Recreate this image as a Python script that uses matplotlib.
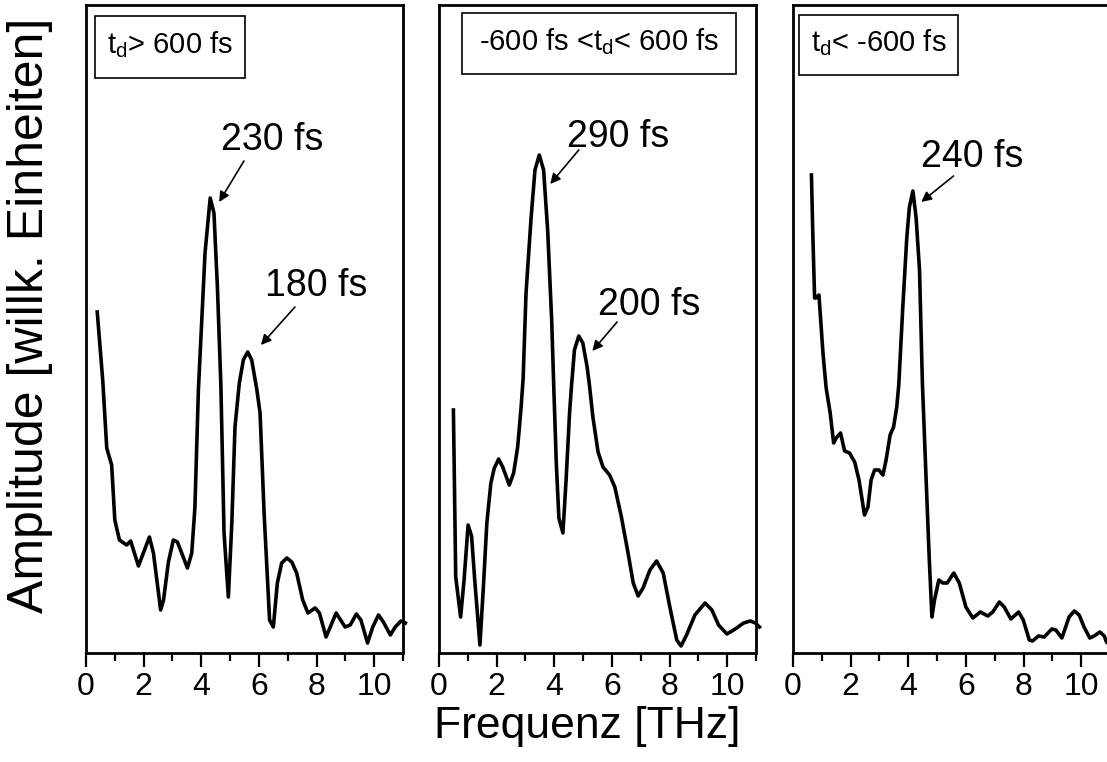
import matplotlib
matplotlib.use("Agg")
import matplotlib.pyplot as plt
from matplotlib.patches import Rectangle

plt.rcParams['font.family'] = ['Liberation Sans', 'DejaVu Sans']
plt.rcParams['mathtext.fontset'] = 'custom'
plt.rcParams['mathtext.rm'] = 'Liberation Sans'
plt.rcParams['mathtext.it'] = 'Liberation Sans'

# panel 1: t_d > 600 fs
x1 = [0.39, 0.58, 0.72, 0.89, 1.0, 1.16, 1.41, 1.55, 1.82, 2.2, 2.34, 2.59, 2.69, 2.86, 3.03,
      3.17, 3.32, 3.52, 3.67, 3.78, 3.9, 4.13, 4.31, 4.44, 4.56, 4.68, 4.79, 4.94, 5.06, 5.17,
      5.32, 5.46, 5.61, 5.75, 5.93, 6.04, 6.18, 6.37, 6.5, 6.64, 6.79, 6.97, 7.14, 7.31, 7.52,
      7.7, 7.95, 8.1, 8.33, 8.68, 8.99, 9.17, 9.38, 9.54, 9.77, 9.95, 10.15, 10.32, 10.56,
      10.73, 10.93, 11.08]
y1 = [341, 273, 205, 188, 133, 113, 108, 112, 87, 116, 100, 43, 53, 91, 113,
      111, 100, 85, 100, 146, 263, 400, 455, 440, 366, 268, 120, 56, 130, 226,
      270, 293, 301, 293, 263, 240, 140, 33, 26, 70, 90, 95, 91, 80, 53,
      40, 45, 40, 16, 40, 26, 28, 39, 33, 10, 26, 38, 31, 18,
      26, 32, 30]

# panel 2: -600 fs < t_d < 600 fs
x2 = [0.5, 0.58, 0.75, 0.87, 1.01, 1.13, 1.24, 1.42, 1.54, 1.66, 1.8, 1.92, 2.07, 2.21, 2.44,
      2.59, 2.73, 2.85, 2.92, 3.02, 3.19, 3.33, 3.48, 3.63, 3.77, 3.91, 3.98, 4.07, 4.16, 4.3,
      4.41, 4.53, 4.6, 4.7, 4.85, 4.99, 5.14, 5.22, 5.34, 5.52, 5.69, 5.92, 6.1, 6.33, 6.56,
      6.74, 6.91, 7.08, 7.32, 7.55, 7.78, 8.01, 8.25, 8.4, 8.59, 8.88, 9.23, 9.47, 9.7, 9.99,
      10.28, 10.57, 10.8, 10.98, 11.12]
y2 = [243, 76, 36, 73, 128, 117, 73, 8, 66, 130, 170, 185, 194, 186, 168,
      180, 206, 246, 275, 360, 433, 483, 498, 483, 423, 333, 268, 190, 135, 120,
      173, 240, 268, 303, 317, 310, 286, 268, 236, 201, 186, 178, 166, 136, 100,
      70, 57, 65, 83, 92, 80, 46, 13, 7, 18, 38, 50, 43, 28, 19,
      24, 30, 32, 30, 26]

# panel 3: t_d < -600 fs
x3 = [0.64, 0.69, 0.75, 0.79, 0.9, 1.04, 1.15, 1.29, 1.41, 1.5, 1.65, 1.79, 1.96, 2.14, 2.29,
      2.4, 2.48, 2.6, 2.71, 2.83, 2.98, 3.12, 3.23, 3.37, 3.49, 3.6, 3.67, 3.81, 3.95, 4.04,
      4.16, 4.27, 4.39, 4.49, 4.62, 4.73, 4.82, 4.91, 5.06, 5.2, 5.35, 5.58, 5.77, 6.0, 6.24,
      6.5, 6.76, 6.93, 7.16, 7.33, 7.56, 7.83, 7.99, 8.2, 8.31, 8.52, 8.72, 8.98, 9.12, 9.33,
      9.58, 9.76, 9.93, 10.1, 10.3, 10.45, 10.65, 10.8, 10.88, 11.0]
y3 = [478, 416, 355, 355, 358, 300, 265, 240, 210, 215, 220, 202, 200, 191, 173,
      153, 138, 146, 173, 183, 183, 178, 193, 218, 226, 246, 268, 346, 416, 446,
      462, 436, 383, 270, 173, 93, 36, 53, 73, 70, 70, 80, 70, 46, 35,
      41, 37, 41, 51, 46, 34, 41, 33, 13, 12, 17, 16, 24, 23, 15,
      36, 42, 38, 26, 15, 17, 21, 17, 11, 8]

box_texts = [r'$\mathregular{t_d}$> 600 fs',
             r'-600 fs <$\mathregular{t_d}$< 600 fs',
             r'$\mathregular{t_d}$< -600 fs']

# (label, text pos, arrow tail, arrow head) per panel
peak_notes = [
    [('230 fs', (6.47, 503), (5.48, 492), (4.62, 451)),
     ('180 fs', (8.0, 357), (7.25, 346), (6.07, 308))],
    [('290 fs', (6.23, 506), (4.85, 503), (3.86, 469)),
     ('200 fs', (7.29, 338), (6.18, 331), (5.32, 302))],
    [('240 fs', (6.22, 486), (5.57, 477), (4.45, 451))],
]

W, H = 1107, 762
fig = plt.figure(figsize=(W / 100, H / 100), dpi=100)

lefts = [86, 439, 793]
ax_w, ax_bot, ax_top = 317, 653, 5
# box extents in pixels: x0, x1, y0(top), y1(bottom), text baseline
boxes = [(95, 245, 16, 78, 53), (462, 736, 13, 74, 50), (799, 958, 15, 75, 51)]

data = [(x1, y1), (x2, y2), (x3, y3)]
for i, (xs, ys) in enumerate(data):
    l = lefts[i]
    ax = fig.add_axes([l / W, (H - ax_bot) / H, ax_w / W, (ax_bot - ax_top) / H])
    ax.plot(xs, ys, color='k', lw=2.6, clip_on=False, solid_joinstyle='round')
    ax.set_xlim(0, 11)
    ax.set_ylim(0, ax_bot - ax_top)
    ax.set_yticks([])
    ax.set_xticks([0, 2, 4, 6, 8, 10])
    ax.set_xticks([1, 3, 5, 7, 9, 11], minor=True)
    ax.tick_params(axis='x', which='major', direction='out', length=10, width=1.6,
                   labelsize=23, pad=4)
    ax.tick_params(axis='x', which='minor', direction='out', length=6, width=1.6)
    for s in ax.spines.values():
        s.set_linewidth(2.0)

    bx0, bx1, by0, by1, bbase = boxes[i]
    fx = lambda px: (px - l) / ax_w
    fy = lambda py: (ax_bot - py) / (ax_bot - ax_top)
    ax.add_patch(Rectangle((fx(bx0), fy(by1)), fx(bx1) - fx(bx0), fy(by0) - fy(by1),
                           transform=ax.transAxes, fill=False, lw=1.2, ec='k'))
    ax.text((fx(bx0) + fx(bx1)) / 2, fy(bbase), box_texts[i], transform=ax.transAxes,
            ha='center', va='baseline', fontsize=21)

    for lab, tpos, tail, head in peak_notes[i]:
        ax.text(tpos[0], tpos[1], lab, ha='center', va='baseline', fontsize=27)
        ax.annotate('', xy=head, xytext=tail,
                    arrowprops=dict(arrowstyle='-|>', color='k', lw=1.2,
                                    mutation_scale=15, shrinkA=0, shrinkB=0))

fig.text(30 / W, 1 - 315 / H, 'Amplitude [willk. Einheiten]', rotation=90,
         ha='center', va='center', fontsize=36)
fig.text(587 / W, 1 - 738 / H, 'Frequenz [THz]', ha='center', va='baseline', fontsize=32)

fig.savefig('out.png', dpi=100)
